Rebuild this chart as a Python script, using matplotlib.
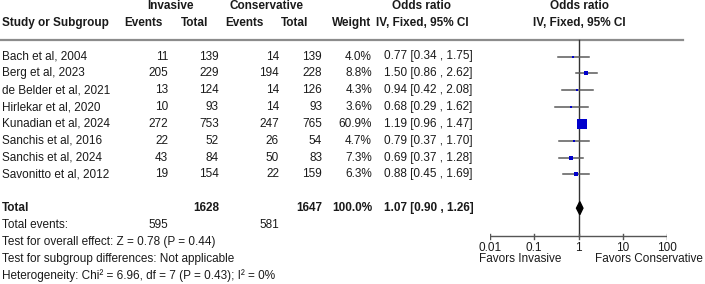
import numpy as np
import matplotlib.pyplot as plt

plt.rcParams["font.family"] = ["Liberation Sans", "DejaVu Sans"]

studies = ["Bach et al, 2004", "Berg et al, 2023", "de Belder et al, 2021",
           "Hirlekar et al, 2020", "Kunadian et al, 2024", "Sanchis et al, 2016",
           "Sanchis et al, 2024", "Savonitto et al, 2012"]
inv_events = [11, 205, 13, 10, 272, 22, 43, 19]
inv_total = [139, 229, 124, 93, 753, 52, 84, 154]
con_events = [14, 194, 14, 14, 247, 26, 50, 22]
con_total = [139, 228, 126, 93, 765, 54, 83, 159]
weights = [4.0, 8.8, 4.3, 3.6, 60.9, 4.7, 7.3, 6.3]
odds = [0.77, 1.50, 0.94, 0.68, 1.19, 0.79, 0.69, 0.88]
ci_low = [0.34, 0.86, 0.42, 0.29, 0.96, 0.37, 0.37, 0.45]
ci_high = [1.75, 2.62, 2.08, 1.62, 1.47, 1.70, 1.28, 1.69]

total_weight = 100.0
total_or, total_low, total_high = 1.07, 0.90, 1.26
footer = ["Test for overall effect: Z = 0.78 (P = 0.44)",
          "Test for subgroup differences: Not applicable",
          "Heterogeneity: Chi\u00b2 = 6.96, df = 7 (P = 0.43); I\u00b2 = 0%"]
ticks = [0.01, 0.1, 1, 10, 100]
tick_labels = ["0.01", "0.1", "1", "10", "100"]

W, H = 705, 284
fs = 8.5
txt = "#1a1a1a"
fig = plt.figure(figsize=(W / 100, H / 100), dpi=100)

# text layer in pixel coordinates
ax = fig.add_axes([0, 0, 1, 1])
ax.set_xlim(0, W)
ax.set_ylim(H, 0)
ax.axis("off")

row0, step = 56.5, 16.85
rows = [row0 + i * step for i in range(len(studies))]
y_total = rows[-1] + 2 * step
y_events = y_total + step

hdr1, hdr2 = 6, 23
bold = dict(fontsize=fs, fontweight="bold", color=txt, va="center")
ax.text(170, hdr1, "Invasive", ha="center", **bold)
ax.text(267, hdr1, "Conservative", ha="center", **bold)
ax.text(422, hdr1, "Odds ratio", ha="center", **bold)
ax.text(579, hdr1, "Odds ratio", ha="center", **bold)
ax.text(2, hdr2, "Study or Subgroup", ha="left", **bold)
ax.text(163, hdr2, "Events", ha="right", **bold)
ax.text(208, hdr2, "Total", ha="right", **bold)
ax.text(264, hdr2, "Events", ha="right", **bold)
ax.text(308, hdr2, "Total", ha="right", **bold)
ax.text(371, hdr2, "Weight", ha="right", **bold)
ax.text(422, hdr2, "IV, Fixed, 95% CI", ha="center", **bold)
ax.text(579, hdr2, "IV, Fixed, 95% CI", ha="center", **bold)
ax.plot([0, 683], [40, 40], color="#8c8c8c", lw=1.6)

norm = dict(fontsize=fs, color=txt, va="center")
for i, y in enumerate(rows):
    ax.text(2, y, studies[i], ha="left", **norm)
    ax.text(168, y, str(inv_events[i]), ha="right", **norm)
    ax.text(219, y, str(inv_total[i]), ha="right", **norm)
    ax.text(279, y, str(con_events[i]), ha="right", **norm)
    ax.text(322, y, str(con_total[i]), ha="right", **norm)
    ax.text(372, y, f"{weights[i]:.1f}%", ha="right", **norm)
    ax.text(384, y, f"{odds[i]:.2f} [{ci_low[i]:.2f} , {ci_high[i]:.2f}]", ha="left", **norm)

ax.text(2, y_total, "Total", ha="left", **bold)
ax.text(219, y_total, str(sum(inv_total)), ha="right", **bold)
ax.text(322, y_total, str(sum(con_total)), ha="right", **bold)
ax.text(372, y_total, f"{total_weight:.1f}%", ha="right", **bold)
ax.text(384, y_total, f"{total_or:.2f} [{total_low:.2f} , {total_high:.2f}]", ha="left", **bold)
ax.text(2, y_events, "Total events:", ha="left", **norm)
ax.text(168, y_events, str(sum(inv_events)), ha="right", **norm)
ax.text(279, y_events, str(sum(con_events)), ha="right", **norm)
for k, line in enumerate(footer):
    ax.text(2, y_events + (k + 1) * step, line, ha="left", **norm)

# forest plot layer
x0, x1, ytop, ybase = 490, 667, 40, 236
fx = fig.add_axes([x0 / W, 0, (x1 - x0) / W, 1])
fx.set_xscale("log")
fx.set_xlim(ticks[0], ticks[-1])
fx.set_ylim(H, 0)
fx.patch.set_visible(False)
for s in fx.spines.values():
    s.set_visible(False)
fx.set_yticks([])
fx.set_xticks([])
fx.minorticks_off()

fx.plot([1, 1], [ytop, ybase], color="#333333", lw=1.0, zorder=1)
fx.plot([ticks[0], ticks[-1]], [ybase, ybase], color="#555555", lw=1.0)
for t, lab in zip(ticks, tick_labels):
    fx.plot([t, t], [ybase - 2.5, ybase + 2.5], color="#555555", lw=1.0)
    fx.text(t, ybase + 12, lab, ha="center", va="center", fontsize=fs, color=txt)
fx.text(0.0057, ybase + 23, "Favors Invasive", ha="left", va="center", fontsize=fs, color=txt,
        clip_on=False)
fx.text(2.42, ybase + 23, "Favors Conservative", ha="left", va="center", fontsize=fs, color=txt,
        clip_on=False)

wmax = max(weights)
for i, y in enumerate(rows):
    fx.plot([ci_low[i], ci_high[i]], [y, y], color="#5a5a5a", lw=1.1, zorder=2)
    size = 7.2 * np.sqrt(weights[i] / wmax)
    fx.plot(odds[i], y, marker="s", ms=max(size, 2.0), color="#0000cc", mew=0, zorder=3)

dh = 6.5
fx.fill([total_low, total_or, total_high, total_or],
        [y_total, y_total - dh, y_total, y_total + dh], color="black", zorder=3)

fig.savefig("out.png", dpi=100)
